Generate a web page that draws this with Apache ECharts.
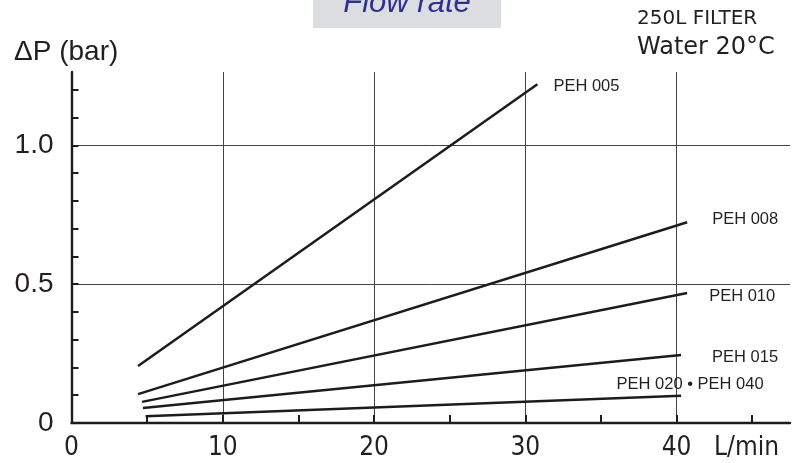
<!DOCTYPE html>
<html><head><meta charset="utf-8">
<script src="https://cdn.jsdelivr.net/npm/echarts@6/dist/echarts.min.js"></script>
<style>html,body{margin:0;padding:0;background:#fff}#c{width:798px;height:463px}</style>
</head><body><div id="c"></div>
<script>
const seriesNames = ['PEH 005', 'PEH 008', 'PEH 010', 'PEH 015', 'PEH 020 • PEH 040'];
const peh005 = [[4.4, 0.205], [30.8, 1.22]];
const peh008 = [[4.4, 0.104], [40.7, 0.723]];
const peh010 = [[4.66, 0.076], [40.7, 0.468]];
const peh015 = [[4.72, 0.054], [40.3, 0.245]];
const peh020 = [[4.9, 0.024], [40.3, 0.098]];
const xTickValues = [0, 10, 20, 30, 40];
const xTickLabels = ['0', '10', '20', '30', '40'];
const yTickValues = [0, 0.5, 1.0];
const yTickLabels = ['0', '0.5', '1.0'];
const titleText = 'Flow rate';
const noteLines = ['250L FILTER', 'Water 20°C'];
const yAxisTitle = 'ΔP (bar)';
const xAxisTitle = 'L/min';

const lineColor = '#1e1b1c';
const gridColor = '#444444';
const labelFont = "'Liberation Sans Narrow', 'DejaVu Sans Condensed', 'Liberation Sans', sans-serif";

function pick(values, labels) {
  return function (v) {
    for (let i = 0; i < values.length; i++) {
      if (Math.abs(v - values[i]) < 1e-6) return labels[i];
    }
    return '';
  };
}

const allData = [peh005, peh008, peh010, peh015, peh020];
const labelCfg = [
  { offset: [16, 2], align: 'left' },
  { offset: [25, -3], align: 'left' },
  { offset: [22, 3], align: 'left' },
  { offset: [31, 2], align: 'left' },
  { offset: [9, -11], align: 'center' }
];

const chart = echarts.init(document.getElementById('c'), null, { renderer: 'canvas' });
chart.setOption({
  animation: false,
  backgroundColor: '#ffffff',
  grid: { left: 71.5, right: 8, top: 72, bottom: 40 },
  xAxis: [{
    type: 'value', min: 0, max: 47.5, interval: 5,
    axisLine: { show: true, lineStyle: { color: lineColor, width: 2.4 } },
    axisTick: { show: true, inside: true, length: 8, lineStyle: { color: lineColor, width: 2 } },
    axisLabel: {
      formatter: pick(xTickValues, xTickLabels), showMaxLabel: false,
      color: '#231f20', fontSize: 26, fontFamily: labelFont, margin: 12
    },
    splitLine: { show: false }
  }, {
    type: 'value', min: 0, max: 47.5, interval: 10, position: 'bottom',
    axisLine: { show: false }, axisTick: { show: false }, axisLabel: { show: false },
    splitLine: { show: true, showMinLine: false, showMaxLine: false, lineStyle: { color: gridColor, width: 1 } }
  }],
  yAxis: [{
    type: 'value', min: 0, max: 1.264, interval: 0.1,
    axisLine: { show: true, lineStyle: { color: lineColor, width: 2.4 } },
    axisTick: { show: true, inside: true, length: 7, lineStyle: { color: lineColor, width: 2 } },
    axisLabel: {
      formatter: pick(yTickValues, yTickLabels), showMaxLabel: false,
      color: '#231f20', fontSize: 28, fontFamily: "'Liberation Sans', Arial, sans-serif", margin: 18
    },
    splitLine: { show: false }
  }, {
    type: 'value', min: 0, max: 1.264, interval: 0.5, position: 'left',
    axisLine: { show: false }, axisTick: { show: false }, axisLabel: { show: false },
    splitLine: { show: true, showMinLine: false, showMaxLine: false, lineStyle: { color: gridColor, width: 1 } }
  }],
  series: allData.map(function (d, i) {
    return {
      name: seriesNames[i], type: 'line', data: d, xAxisIndex: 0, yAxisIndex: 0,
      symbol: 'none', silent: true,
      lineStyle: { color: lineColor, width: 2.5 },
      endLabel: {
        show: true, formatter: seriesNames[i], distance: 0,
        offset: labelCfg[i].offset, align: labelCfg[i].align, verticalAlign: 'middle',
        color: '#231f20', fontSize: 16.5, fontFamily: "'Liberation Sans', Arial, sans-serif"
      }
    };
  }),
  graphic: [
    { type: 'rect', shape: { x: 313, y: 0, width: 188, height: 28 }, style: { fill: '#dcdde0' } },
    { type: 'text', x: 407, y: 19, style: { text: titleText, fill: '#2e3192', font: "italic 31px 'Liberation Sans', Arial, sans-serif", textAlign: 'center', textVerticalAlign: 'bottom' } },
    { type: 'text', x: 637, y: 19, style: { text: noteLines[0], fill: '#231f20', font: "20px 'DejaVu Sans', sans-serif", textAlign: 'left', textVerticalAlign: 'middle' } },
    { type: 'text', x: 637, y: 48, style: { text: noteLines[1], fill: '#231f20', font: "24px 'DejaVu Sans', sans-serif", textAlign: 'left', textVerticalAlign: 'middle' } },
    { type: 'text', x: 14, y: 52, style: { text: yAxisTitle, fill: '#231f20', font: "28px 'Liberation Sans', Arial, sans-serif", textAlign: 'left', textVerticalAlign: 'middle' } },
    { type: 'text', x: 714, y: 448, style: { text: xAxisTitle, fill: '#231f20', font: "26px " + labelFont, textAlign: 'left', textVerticalAlign: 'middle' } }
  ]
});
</script>
</body></html>
